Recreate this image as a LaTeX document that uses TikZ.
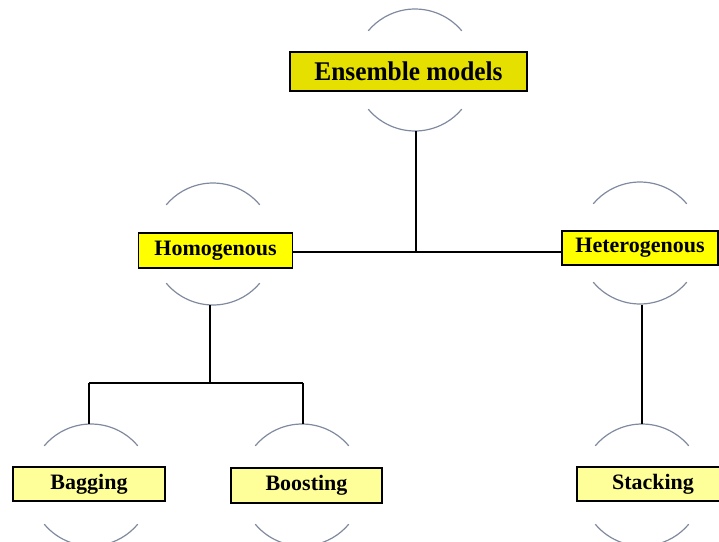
\documentclass[tikz,border=0pt]{standalone}
\usepackage{fontspec}
\setmainfont{Liberation Serif}
\newfontfamily\narrowserif[FakeStretch=0.94]{Liberation Serif}
\begin{document}
\begin{tikzpicture}[x=1pt,y=1pt,
  box/.style={draw=black, line width=1.4pt, inner sep=0pt, font=\bfseries},
  topbox/.style={box, fill={rgb,255:red,230;green,224;blue,0}, minimum width=237pt, minimum height=39pt, font=\narrowserif\bfseries\fontsize{27}{27}\selectfont},
  midbox/.style={box, fill={rgb,255:red,255;green,255;blue,0}, minimum width=154pt, minimum height=35pt, font=\bfseries\fontsize{22}{22}\selectfont},
  leafbox/.style={box, fill={rgb,255:red,255;green,255;blue,153}, minimum width=152pt, minimum height=35pt, font=\bfseries\fontsize{22}{22}\selectfont},
  ring/.style={circle, minimum size=122pt, inner sep=0pt},
  arcline/.style={draw={rgb,255:red,128;green,138;blue,158}, line width=1.2pt},
  link/.style={draw=black, line width=2pt}]
\useasboundingbox (0,0) rectangle (719,-541);

% rings behind each box
\node[ring] (ensr) at (415,-70) {};
\node[ring] (homr) at (213,-244) {};
\node[ring] (hetr) at (640,-243) {};
\node[ring] (bagr) at (91,-485) {};
\node[ring] (boor) at (302,-485) {};
\node[ring] (star) at (642,-485) {};

\foreach \r in {ensr,homr,hetr,bagr,boor,star}{
  \draw[arcline] (\r.center) ++(40:61) arc[start angle=40, end angle=140, radius=61];
  \draw[arcline] (\r.center) ++(220:61) arc[start angle=220, end angle=320, radius=61];
}

% boxes
\node[topbox] (ens) at (408.5,-71.5) {Ensemble models};
\node[midbox] (hom) at (215.5,-250.5) {Homogenous};
\node[midbox, minimum width=156pt, minimum height=34pt] (het) at (640,-248) {Heterogenous};
\node[leafbox, minimum height=34pt] (bag) at (89,-484) {Bagging};
\node[leafbox, minimum width=151pt] (boo) at (306.5,-485.5) {Boosting};
\node[leafbox, minimum height=34pt] (sta) at (653,-484) {Stacking};

% junctions
\coordinate (j1) at (416,-252);
\coordinate (j2) at (210,-383);
\coordinate (j2l) at (89,-383);
\coordinate (j2r) at (303,-383);
\coordinate (j3) at (642,-305);

% connectors
\draw[link] (ensr.south -| j1) -- (j1);
\draw[link] (hom.east |- j1) -- (het.west |- j1);
\draw[link] (homr.south -| j2) -- (j2);
\draw[link] (j2l) -- (j2r);
\draw[link] (j2l) -- (j2l |- bagr.north);
\draw[link] (j2r) -- (j2r |- boor.north);
\draw[link] (j3) -- (star.north);
\end{tikzpicture}
\end{document}
